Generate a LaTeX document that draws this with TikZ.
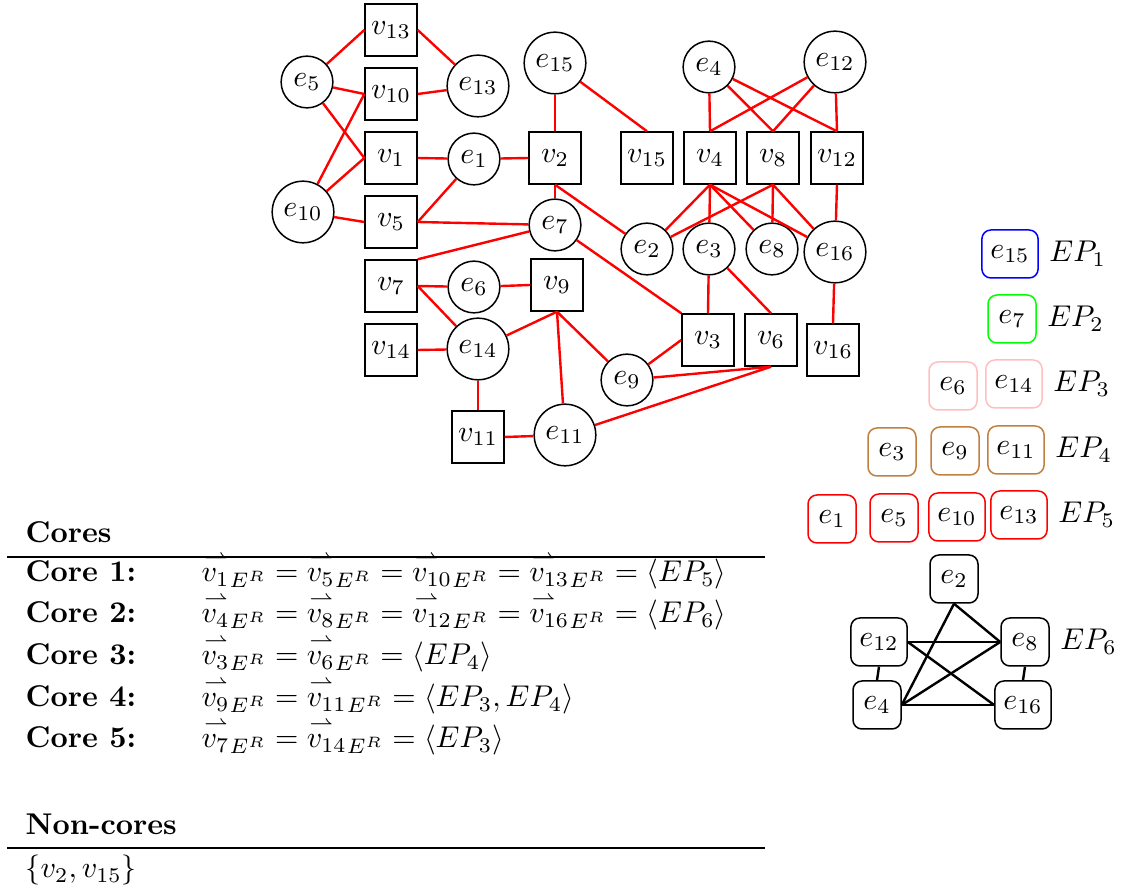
\documentclass[tikz,border=0pt]{standalone}
\usepackage{amsmath}
\newcommand{\hv}[1]{{\hbox to 0pt{\kern0.8pt$\overset{\rightharpoonup}{\phantom{v}}$\hss}v_{#1}}_{E^R}}
\begin{document}
\begin{tikzpicture}[x=0.3333pt,y=-0.3333pt,
  vbox/.style={draw, line width=0.5pt, minimum size=17.3pt, inner sep=1pt},
  ecirc/.style={draw, circle, line width=0.5pt, inner sep=2.3pt},
  redge/.style={red, line width=0.8pt},
  epbox/.style={draw, rounded corners=3pt, minimum size=16pt, inner sep=2.8pt, line width=0.5pt},
  bedge/.style={black, line width=0.8pt},
  eplabel/.style={inner sep=3.33pt, anchor=west},
  txt/.style={inner sep=0pt, anchor=base west},
  rulel/.style={line width=0.6pt}]
\useasboundingbox (0,0) rectangle (1124,888);
% ---------- graph: squares
\node[vbox] (v13) at (391,30) {$v_{13}$};
\node[vbox] (v10) at (391,94) {$v_{10}$};
\node[vbox] (v1) at (391,158) {$v_{1}$};
\node[vbox] (v5) at (391,222) {$v_{5}$};
\node[vbox] (v2) at (555,158) {$v_{2}$};
\node[vbox] (v15) at (647,158) {$v_{15}$};
\node[vbox] (v4) at (710,158) {$v_{4}$};
\node[vbox] (v8) at (773,158) {$v_{8}$};
\node[vbox] (v12) at (837,158) {$v_{12}$};
\node[vbox] (v7) at (391,286) {$v_{7}$};
\node[vbox] (v9) at (557,285) {$v_{9}$};
\node[vbox] (v14) at (391,350) {$v_{14}$};
\node[vbox] (v11) at (478,437) {$v_{11}$};
\node[vbox] (v3) at (708,340) {$v_{3}$};
\node[vbox] (v6) at (771,340) {$v_{6}$};
\node[vbox] (v16) at (833,350) {$v_{16}$};
% ---------- graph: circles
\node[ecirc] (e5) at (307,82) {$e_{5}$};
\node[ecirc] (e13) at (478,86) {$e_{13}$};
\node[ecirc] (e1) at (474,159) {$e_{1}$};
\node[ecirc] (e10) at (303,212) {$e_{10}$};
\node[ecirc] (e15) at (555,63) {$e_{15}$};
\node[ecirc] (e7) at (555,225) {$e_{7}$};
\node[ecirc] (e4) at (709,67) {$e_{4}$};
\node[ecirc] (e12) at (835,62) {$e_{12}$};
\node[ecirc] (e2) at (647,249) {$e_{2}$};
\node[ecirc] (e3) at (709,249) {$e_{3}$};
\node[ecirc] (e8) at (772,249) {$e_{8}$};
\node[ecirc] (e16) at (835,252) {$e_{16}$};
\node[ecirc] (e6) at (474,287) {$e_{6}$};
\node[ecirc] (e14) at (478,349) {$e_{14}$};
\node[ecirc] (e11) at (565,435) {$e_{11}$};
\node[ecirc] (e9) at (627,380) {$e_{9}$};
% ---------- graph: edges
\draw[redge] (e5) -- (v13.west);
\draw[redge] (e5) -- (v10.west);
\draw[redge] (e5) -- (v1.west);
\draw[redge] (e10) -- (v10.west);
\draw[redge] (e10) -- (v1.west);
\draw[redge] (e10) -- (v5.west);
\draw[redge] (v13.east) -- (e13);
\draw[redge] (v10.east) -- (e13);
\draw[redge] (v1.east) -- (e1);
\draw[redge] (e1) -- (v2.west);
\draw[redge] (e1) -- (v5.east);
\draw[redge] (v5.east) -- (e7);
\draw[redge] (e15) -- (v2.north);
\draw[redge] (v2.south) -- (e7);
\draw[redge] (v2.south) -- (e2);
\draw[redge] (e15) -- (v15.north);
\draw[redge] (e7) -- (v7.north east);
\draw[redge] (e7) -- (v3.north west);
\draw[redge] (e4) -- (v4.north);
\draw[redge] (e4) -- (v8.north);
\draw[redge] (e4) -- (v12.north);
\draw[redge] (e12) -- (v4.north);
\draw[redge] (e12) -- (v8.north);
\draw[redge] (e12) -- (v12.north);
\draw[redge] (v4.south) -- (e2);
\draw[redge] (v4.south) -- (e3);
\draw[redge] (v4.south) -- (e8);
\draw[redge] (v4.south) -- (e16);
\draw[redge] (v8.south) -- (e2);
\draw[redge] (v8.south) -- (e8);
\draw[redge] (v8.south) -- (e16);
\draw[redge] (v12.south) -- (e16);
\draw[redge] (e16) -- (v16.north);
\draw[redge] (v7.east) -- (e6);
\draw[redge] (v7.east) -- (e14);
\draw[redge] (e6) -- (v9.west);
\draw[redge] (v14.east) -- (e14);
\draw[redge] (v9.south) -- (e14);
\draw[redge] (v9.south) -- (e9);
\draw[redge] (v9.south) -- (e11);
\draw[redge] (e14) -- (v11.north);
\draw[redge] (v11.east) -- (e11);
\draw[redge] (e9) -- (v3.west);
\draw[redge] (e3) -- (v3.north);
\draw[redge] (e3) -- (v6.north);
\draw[redge] (e9) -- (v6.south);
\draw[redge] (e11) -- (v6.south);
% ---------- edge partitions
\node[epbox, blue] (p15) at (1010,254) {\color{black}$e_{15}$};
\node[eplabel] (l1) at (p15.east) {$EP_1$};
\node[epbox, green] (p7) at (1012,319) {\color{black}$e_{7}$};
\node[eplabel] (l2) at (p7.east) {$EP_2$};
\node[epbox, pink] (p6) at (953,386) {\color{black}$e_{6}$};
\node[epbox, pink] (p14) at (1014,384) {\color{black}$e_{14}$};
\node[eplabel] (l3) at (p14.east) {$EP_3$};
\node[epbox, brown] (p3) at (892,452) {\color{black}$e_{3}$};
\node[epbox, brown] (p9) at (955,451) {\color{black}$e_{9}$};
\node[epbox, brown] (p11) at (1016,450) {\color{black}$e_{11}$};
\node[eplabel] (l4) at (p11.east) {$EP_4$};
\node[epbox, red] (p1) at (832,519) {\color{black}$e_{1}$};
\node[epbox, red] (p5) at (894,518) {\color{black}$e_{5}$};
\node[epbox, red] (p10) at (957,517) {\color{black}$e_{10}$};
\node[epbox, red] (p13) at (1019,515) {\color{black}$e_{13}$};
\node[eplabel] (l5) at (p13.east) {$EP_5$};
\node[epbox] (q2) at (954,579) {$e_{2}$};
\node[epbox] (q12) at (879,642) {$e_{12}$};
\node[epbox] (q8) at (1025,642) {$e_{8}$};
\node[epbox] (q4) at (877,705) {$e_{4}$};
\node[epbox] (q16) at (1023,705) {$e_{16}$};
\node[eplabel] (l6) at (q8.east) {$EP_6$};
\draw[bedge] (q2.south) -- (q8.west);
\draw[bedge] (q2.south) -- (q4.east);
\draw[bedge] (q12.east) -- (q8.west);
\draw[bedge] (q12.east) -- (q16.west);
\draw[bedge] (q4.east) -- (q8.west);
\draw[bedge] (q4.east) -- (q16.west);
\draw[bedge] (q12.south) -- (q4.north);
\draw[bedge] (q8.south) -- (q16.north);
% ---------- table
\node[txt] (hc) at (25,543) {\textbf{Cores}};
\draw[rulel] (7,557) -- (765,557);
\node[txt] (c1) at (25,582) {\textbf{Core 1:}};
\node[txt] (f1) at (201,582) {$\hv{1} = \hv{5} = \hv{10} = \hv{13} = \langle EP_5\rangle$};
\node[txt] (c2) at (25,623) {\textbf{Core 2:}};
\node[txt] (f2) at (201,623) {$\hv{4} = \hv{8} = \hv{12} = \hv{16} = \langle EP_6\rangle$};
\node[txt] (c3) at (25,665) {\textbf{Core 3:}};
\node[txt] (f3) at (201,665) {$\hv{3} = \hv{6} = \langle EP_4\rangle$};
\node[txt] (c4) at (25,707) {\textbf{Core 4:}};
\node[txt] (f4) at (201,707) {$\hv{9} = \hv{11} = \langle EP_3, EP_4\rangle$};
\node[txt] (c5) at (25,748) {\textbf{Core 5:}};
\node[txt] (f5) at (201,748) {$\hv{7} = \hv{14} = \langle EP_3\rangle$};
\node[txt] (hn) at (25,835) {\textbf{Non-cores}};
\draw[rulel] (7,848) -- (765,848);
\node[txt] (nc) at (25,878) {$\{v_2, v_{15}\}$};
\end{tikzpicture}
\end{document}
